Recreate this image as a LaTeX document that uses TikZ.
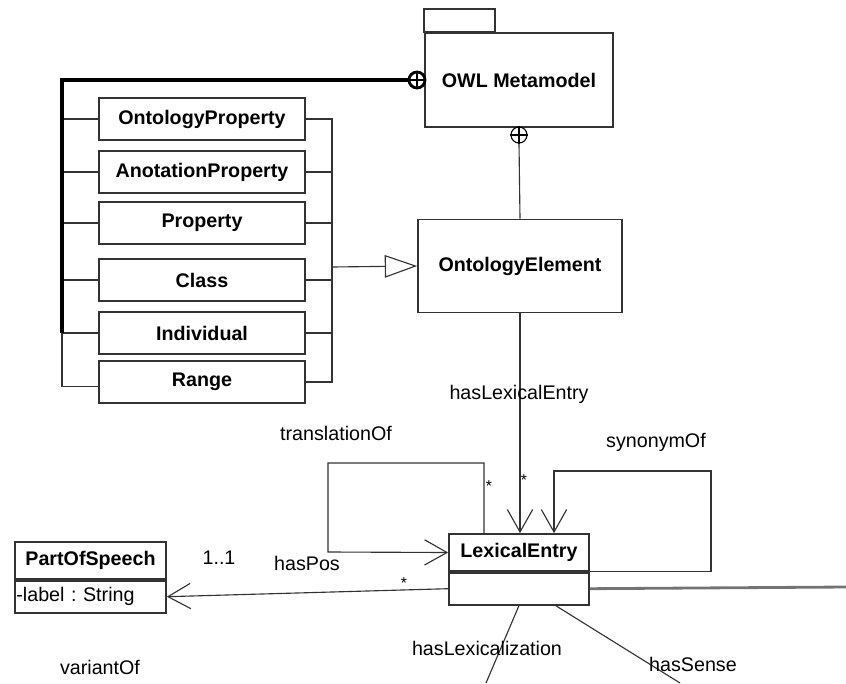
\documentclass[tikz,border=0pt]{standalone}
\usepackage{fontspec}
\setmainfont[Scale=1.4]{Liberation Sans}
\usetikzlibrary{shapes, arrows.meta, positioning}
\tikzstyle{cls} = [rectangle, minimum width=5.15cm, minimum height=1.05cm, text centered, draw=black!80, line width=1.2pt, font=\bfseries]
\tikzstyle{pkg} = [rectangle, minimum width=4.7cm, minimum height=2.35cm, text centered, draw=black!80, line width=1.2pt, font=\bfseries]
\tikzstyle{head} = [rectangle, minimum height=0.925cm, text centered, draw=black!80, line width=1.2pt, font=\bfseries]
\tikzstyle{body} = [rectangle, minimum height=0.8cm, draw=black!80, line width=1.2pt]
\tikzstyle{plus} = [circle, minimum size=0.4cm, inner sep=0pt, draw=black]
\tikzstyle{edge} = [thick, draw=black!80]
\tikzstyle{assoc} = [thick, draw=black!80, -{Straight Barb[length=16pt, width=18pt]}]
\tikzstyle{gen} = [thick, draw=black!80, -{Triangle[open, length=23pt, width=16pt]}]
\tikzstyle{star} = [font=\footnotesize, inner sep=0pt]

\begin{document}
\begin{tikzpicture}[x=0.025cm, y=-0.025cm]
\useasboundingbox (0,0) rectangle (846,683);

% packages and elements
\node (0) [pkg] at (519,80) {OWL Metamodel};
\draw [draw=black!80, line width=1.2pt] (0.north west) rectangle ++(71,-23);
\node (1) [pkg, minimum width=5.1cm, minimum height=2.33cm] at (520,266) {OntologyElement};

\node (2) [cls] at (202,119) {OntologyProperty};
\node (3) [cls] at (202,172) {AnotationProperty};
\node (4) [cls] at (202,223) {Property};
\node (5) [cls] at (202,280) {Class};
\node (6) [cls] at (202,333) {Individual};
\node (7) [cls] at (202,382) {Range};

\node (8) [head, minimum width=3.5cm] at (519,552.5) {LexicalEntry};
\node (9) [body, minimum width=3.5cm, below=0pt of 8] {};
\node (10) [head, minimum width=3.775cm] at (90.5,560.5) {PartOfSpeech};
\node (11) [body, text width=3.705cm, inner xsep=1pt, align=left, below=0pt of 10] {-label :\ String};

\node (p1) [plus, line width=2pt] at (417,80) {};
\draw [line width=2pt] (p1.north) -- (p1.south) (p1.west) -- (p1.east);
\node (p2) [plus, thick] at (519,135) {};
\draw [thick] (p2.north) -- (p2.south) (p2.west) -- (p2.east);

\coordinate (k) at (62,80);
\coordinate (j) at (332,267);
\coordinate (t1) at (484,463);
\coordinate (t2) at (328,552);
\coordinate (s1) at (711,471);
\coordinate (s2) at (554,471);
\coordinate (r) at (846,587);
\coordinate (d1) at (486,683);
\coordinate (d2) at (680,683);

% containment
\draw [edge] (2.west) -| (k);
\draw [edge] (3.west) -| (k);
\draw [edge] (4.west) -| (k);
\draw [edge] (5.west) -| (k);
\draw [edge] (6.west) -| (k);
\draw [edge] ([yshift=-3.5pt]7.west) -| (k);
\draw [line width=2.6pt, draw=black] (p1.west) -- (k) -- (k |- 6.west);
\draw [edge] (p2.south) -- (1.north);

% generalization
\draw [edge] (2.east) -| (j);
\draw [edge] (3.east) -| (j);
\draw [edge] (4.east) -| (j);
\draw [edge] (5.east) -| (j);
\draw [edge] (6.east) -| (j);
\draw [edge] (7.east) -| (j);
\draw [gen] (j) -- (1.west);

% associations
\draw [assoc] (1.south) -- (1.south |- 8.north);
\draw [assoc] (t1 |- 8.north) -- (t1) -| (t2) -- (8.west);
\draw [assoc] (8.south east) -| (s1) -| (s2 |- 8.north);
\draw [assoc] (9.west) -- (11.east);
\draw [line width=2pt, draw=black!55] (9.east) -- (r);
\draw [edge] (9.south) -- (d1);
\draw [edge] ([xshift=26pt]9.south) -- (d2);

% labels
\node (l1) at (519,394) {hasLexicalEntry};
\node (l2) at (336,433) {translationOf};
\node (l3) at (656,442) {synonymOf};
\node (l4) at (219,558) {1..1};
\node (l5) at (307,563) {hasPos};
\node (l6) at (487,648) {hasLexicalization};
\node (l7) at (693,664) {hasSense};
\node (l8) at (100,667) {variantOf};
\node (a1) [star] at (524,480) {*};
\node (a2) [star] at (489,486) {*};
\node (a3) [star] at (404,583) {*};

\end{tikzpicture}
\end{document}
